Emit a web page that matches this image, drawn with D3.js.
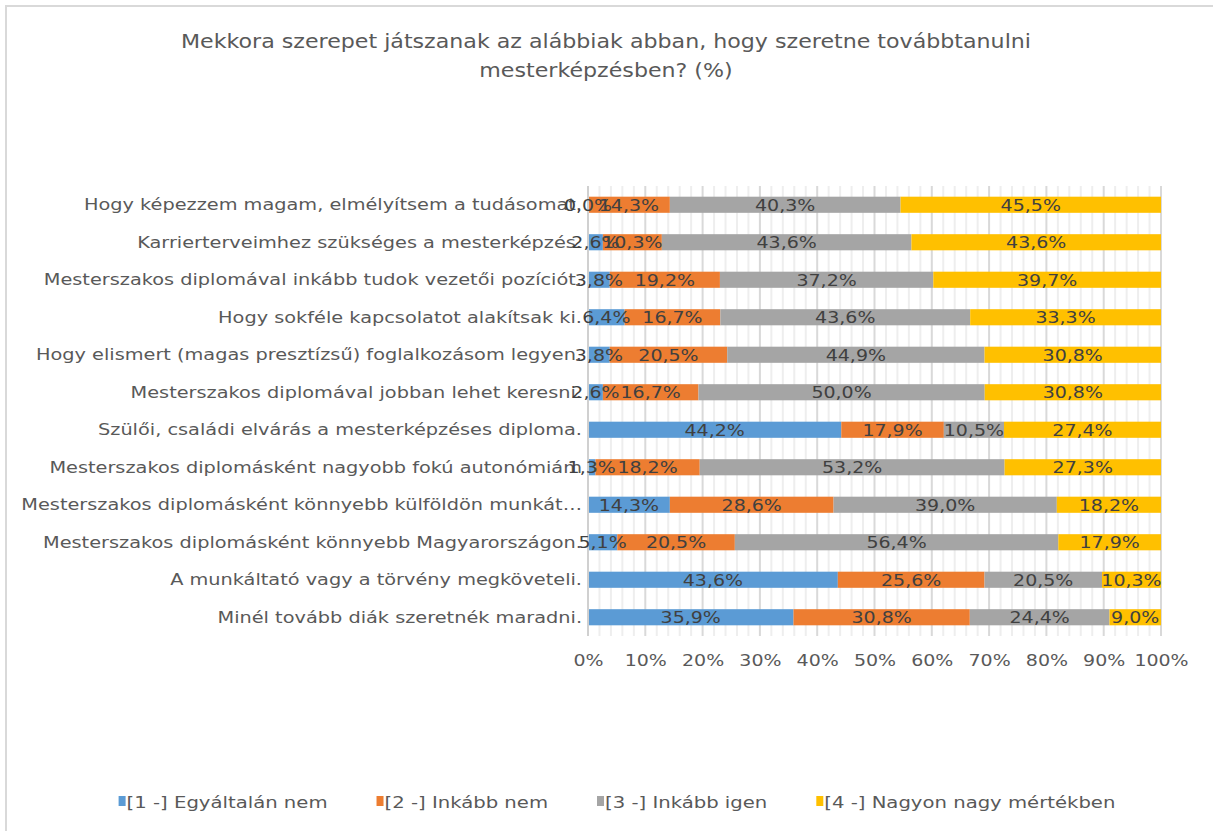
<!DOCTYPE html>
<html>
<head>
<meta charset="utf-8">
<script src="https://cdn.jsdelivr.net/npm/d3@7"></script>
<style>
  html, body { margin: 0; padding: 0; background: #fff; }
  svg { display: block; }
  text { font-family: "DejaVu Sans", Verdana, sans-serif; }
</style>
</head>
<body>
<svg id="chart" width="1213" height="831"></svg>
<script>
const titleLines = ["Mekkora szerepet játszanak az alábbiak abban, hogy szeretne továbbtanulni", "mesterképzésben? (%)"];
const categories = [
  "Hogy képezzem magam, elmélyítsem a tudásomat.",
  "Karrierterveimhez szükséges a mesterképzés.",
  "Mesterszakos diplomával inkább tudok vezetői pozíciót.",
  "Hogy sokféle kapcsolatot alakítsak ki.",
  "Hogy elismert (magas presztízsű) foglalkozásom legyen.",
  "Mesterszakos diplomával jobban lehet keresni.",
  "Szülői, családi elvárás a mesterképzéses diploma.",
  "Mesterszakos diplomásként nagyobb fokú autonómiám",
  "Mesterszakos diplomásként könnyebb külföldön munkát…",
  "Mesterszakos diplomásként könnyebb Magyarországon.",
  "A munkáltató vagy a törvény megköveteli.",
  "Minél tovább diák szeretnék maradni."
];
const seriesNames = ["[1 -] Egyáltalán nem", "[2 -] Inkább nem", "[3 -] Inkább igen", "[4 -] Nagyon nagy mértékben"];
const s1 = [0.0, 2.6, 3.8, 6.4, 3.8, 2.6, 44.2, 1.3, 14.3, 5.1, 43.6, 35.9];
const s2 = [14.3, 10.3, 19.2, 16.7, 20.5, 16.7, 17.9, 18.2, 28.6, 20.5, 25.6, 30.8];
const s3 = [40.3, 43.6, 37.2, 43.6, 44.9, 50.0, 10.5, 53.2, 39.0, 56.4, 20.5, 24.4];
const s4 = [45.5, 43.6, 39.7, 33.3, 30.8, 30.8, 27.4, 27.3, 18.2, 17.9, 10.3, 9.0];
const tickValues = [0, 0.1, 0.2, 0.3, 0.4, 0.5, 0.6, 0.7, 0.8, 0.9, 1.0];
const colors = ["#5B9BD5", "#ED7D31", "#A5A5A5", "#FFC000"];

const series = [s1, s2, s3, s4];
const svg = d3.select("#chart");

// widen glyphs horizontally (reference font is wider than the available ones)
function stretch(sel, f) {
  sel.each(function () {
    const w = this.getComputedTextLength();
    if (w > 0) {
      this.setAttribute("textLength", (w * f).toFixed(2));
      this.setAttribute("lengthAdjust", "spacingAndGlyphs");
    }
  });
}

// outer border
svg.append("rect").attr("x", 6).attr("y", 6).attr("width", 1220).attr("height", 840)
  .attr("fill", "none").attr("stroke", "#d9d9d9").attr("stroke-width", 2);

// title
const title = svg.append("g").selectAll("text").data(titleLines).join("text")
  .attr("x", 606).attr("y", (d, i) => 48 + i * 29).attr("text-anchor", "middle")
  .attr("font-size", 19).attr("fill", "#595959").text(d => d);
stretch(title, 1.165);

const x = d3.scaleLinear().domain([0, 1]).range([588, 1161]);
const y = d3.scaleBand().domain(categories).range([186, 636]).paddingInner(0.57).paddingOuter(0.285);

// minor gridlines
const minor = d3.range(0, 51).map(i => i / 50).filter(v => Math.round(v * 50) % 5 !== 0);
svg.append("g").selectAll("line").data(minor).join("line")
  .attr("x1", d => x(d)).attr("x2", d => x(d)).attr("y1", 186).attr("y2", 636)
  .attr("stroke", "#eeeeee").attr("stroke-width", 2);
// major gridlines
svg.append("g").selectAll("line").data(tickValues.slice(1)).join("line")
  .attr("x1", d => x(d)).attr("x2", d => x(d)).attr("y1", 186).attr("y2", 636)
  .attr("stroke", "#d9d9d9").attr("stroke-width", 2);

// stacked data (normalized to 100%)
const rows = categories.map((c, i) => {
  const vals = series.map(s => s[i]);
  const total = d3.sum(vals);
  let acc = 0;
  return vals.map((v, k) => {
    const seg = { cat: c, k, v, x0: acc / total, x1: (acc + v) / total };
    acc += v;
    return seg;
  });
});
const segs = rows.flat();

svg.append("g").selectAll("rect").data(segs).join("rect")
  .attr("x", d => x(d.x0)).attr("width", d => x(d.x1) - x(d.x0))
  .attr("y", d => y(d.cat)).attr("height", y.bandwidth())
  .attr("fill", d => colors[d.k]);

// axis line at 0
svg.append("line").attr("x1", x(0)).attr("x2", x(0)).attr("y1", 186).attr("y2", 636)
  .attr("stroke", "#d0d0d0").attr("stroke-width", 2);

// category labels
const yAxis = d3.axisLeft(y).tickSize(0).tickPadding(6);
const gy = svg.append("g").attr("transform", `translate(${x(0)},0)`).call(yAxis);
gy.select(".domain").remove();
const catText = gy.selectAll("text").attr("font-size", 16.5).attr("fill", "#595959")
  .attr("font-family", "DejaVu Sans, Verdana, sans-serif");
stretch(catText, 1.17);

// data labels
const fmt = v => v.toFixed(1).replace(".", ",") + "%";
const dl = svg.append("g").selectAll("text").data(segs).join("text")
  .attr("x", d => (x(d.x0) + x(d.x1)) / 2)
  .attr("y", d => y(d.cat) + y.bandwidth() / 2)
  .attr("dy", "0.36em").attr("text-anchor", "middle")
  .attr("font-size", 16.5).attr("fill", "#404040")
  .text(d => fmt(d.v));
stretch(dl, 1.15);

// x axis tick labels
const xAxis = d3.axisBottom(x).tickValues(tickValues).tickSize(0).tickPadding(10)
  .tickFormat(d => Math.round(d * 100) + "%");
const gx = svg.append("g").attr("transform", "translate(0,644)").call(xAxis);
gx.select(".domain").remove();
const tk = gx.selectAll("text").attr("font-size", 16.5).attr("fill", "#595959")
  .attr("font-family", "DejaVu Sans, Verdana, sans-serif");
stretch(tk, 1.15);

// legend
const lg = svg.append("g");
const items = lg.selectAll("g").data(seriesNames).join("g");
items.append("rect").attr("width", 7).attr("height", 10).attr("y", -6)
  .attr("fill", (d, i) => colors[i]);
const lt = items.append("text").attr("x", 8).attr("dy", "0.36em").attr("font-size", 16.5)
  .attr("fill", "#595959").text(d => d);
stretch(lt, 1.19);
let cx = 0;
const gap = 49;
items.each(function () {
  const w = 8 + +this.querySelector("text").getAttribute("textLength");
  d3.select(this).attr("transform", `translate(${cx},802)`);
  cx += w + gap;
});
const totalW = cx - gap;
lg.attr("transform", `translate(${617 - totalW / 2},0)`);
</script>
</body>
</html>
